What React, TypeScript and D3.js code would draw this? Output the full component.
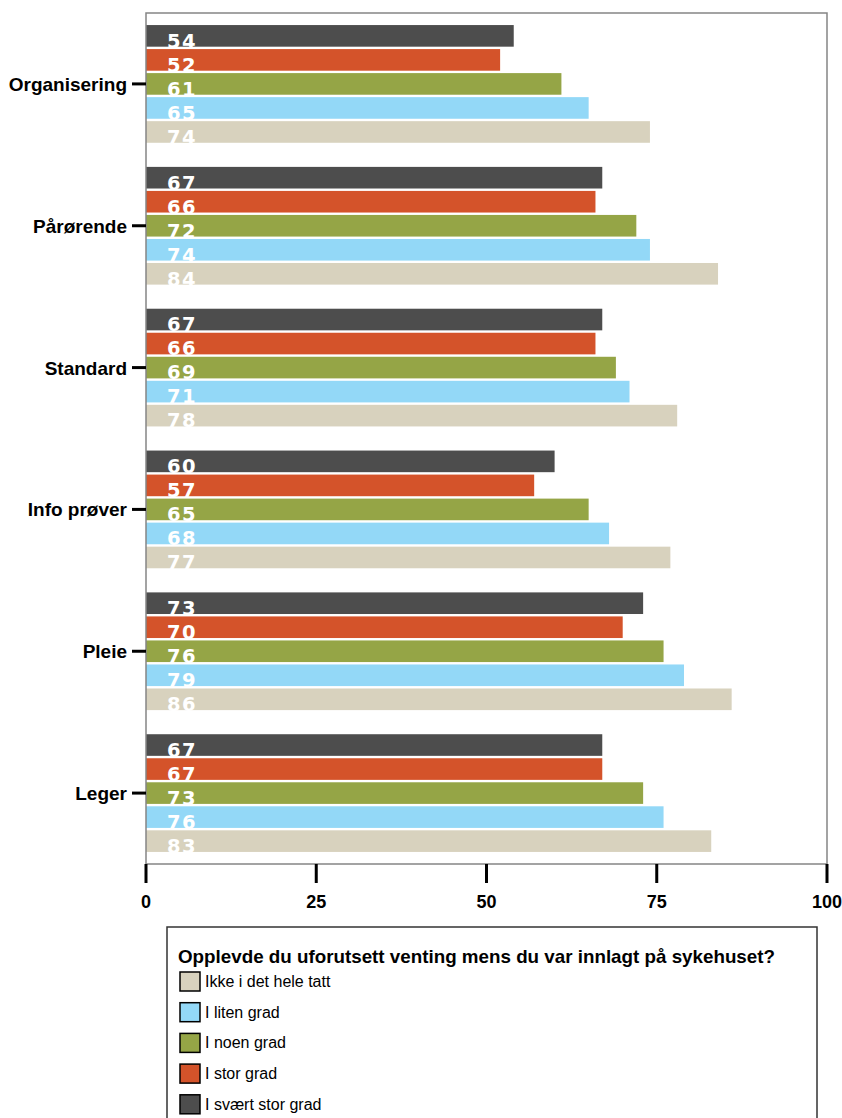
import React, { useEffect } from "react";
import * as d3 from "d3";

// Categories, top to bottom
const categories = ["Organisering", "Pårørende", "Standard", "Info prøver", "Pleie", "Leger"];

// Response series (legend order)
const seriesNames = [
  "Ikke i det hele tatt",
  "I liten grad",
  "I noen grad",
  "I stor grad",
  "I svært stor grad",
];
const seriesColors = ["#d8d2be", "#93d8f7", "#95a546", "#d4532a", "#4d4d4d"];

// Scores per category for each series
const ikkeValues = [74, 84, 78, 77, 86, 83];
const litenValues = [65, 74, 71, 68, 79, 76];
const noenValues = [61, 72, 69, 65, 76, 73];
const storValues = [52, 66, 66, 57, 70, 67];
const svaertStorValues = [54, 67, 67, 60, 73, 67];

const seriesValues = [ikkeValues, litenValues, noenValues, storValues, svaertStorValues];

const xTicks = [0, 25, 50, 75, 100];

const legendTitle = "Opplevde du uforutsett venting mens du var innlagt på sykehuset?";

const W = 842;
const H = 1118;
const plot = { left: 146, right: 827, top: 13, bottom: 864 };

export default function App() {
  useEffect(() => {
    document.body.style.margin = "0";
    document.body.style.overflow = "hidden";
  }, []);

  const x = d3.scaleLinear().domain([0, 100]).range([plot.left, plot.right]);
  const y0 = d3
    .scaleBand<string>()
    .domain(categories)
    .range([plot.top, plot.bottom])
    .paddingInner(0.17)
    .paddingOuter(0.085);
  // Bars inside a group run from "I svært stor grad" at the top to "Ikke i det hele tatt" at the bottom
  const barOrder = [...seriesNames].reverse();
  const y1 = d3
    .scaleBand<string>()
    .domain(barOrder)
    .range([0, y0.bandwidth()])
    .paddingInner(0.1);

  const labelFont = "'Liberation Sans', Arial, sans-serif";

  return (
    <svg width={W} height={H} style={{ display: "block", background: "#fff" }}>
      {categories.map((cat, ci) => {
        const gy = y0(cat)!;
        return (
          <g key={cat}>
            {barOrder.map((name) => {
              const si = seriesNames.indexOf(name);
              const v = seriesValues[si][ci];
              const by = gy + y1(name)!;
              const bh = y1.bandwidth();
              return (
                <g key={name}>
                  <rect
                    x={x(0)}
                    y={by}
                    width={x(v) - x(0)}
                    height={bh}
                    fill={seriesColors[si]}
                  />
                  <text
                    x={x(0) + 21}
                    y={by + bh + 1}
                    fill="#fff"
                    fontFamily="'DejaVu Sans', Verdana, sans-serif"
                    fontWeight="bold"
                    fontSize={19.5}
                    letterSpacing={1.5}
                  >
                    {v}
                  </text>
                </g>
              );
            })}
          </g>
        );
      })}

      {/* Plot frame */}
      <rect
        x={plot.left}
        y={plot.top}
        width={plot.right - plot.left}
        height={plot.bottom - plot.top}
        fill="none"
        stroke="#858585"
        strokeWidth={1.5}
      />

      {/* Category axis */}
      {categories.map((cat) => {
        const cy = y0(cat)! + y0.bandwidth() / 2;
        return (
          <g key={cat}>
            <line x1={plot.left - 14} x2={plot.left} y1={cy} y2={cy} stroke="#000" strokeWidth={3} />
            <text
              x={127}
              y={cy + 7}
              textAnchor="end"
              fontFamily={labelFont}
              fontWeight="bold"
              fontSize={19}
              fill="#000"
            >
              {cat}
            </text>
          </g>
        );
      })}

      {/* Value axis */}
      {xTicks.map((t) => (
        <g key={t}>
          <line x1={x(t)} x2={x(t)} y1={plot.bottom} y2={plot.bottom + 19} stroke="#000" strokeWidth={3} />
          <text
            x={x(t)}
            y={908}
            textAnchor="middle"
            fontFamily={labelFont}
            fontWeight="bold"
            fontSize={18}
            fill="#000"
          >
            {t}
          </text>
        </g>
      ))}

      {/* Legend */}
      <rect x={167} y={927} width={650} height={210} fill="#fff" stroke="#333" strokeWidth={1.5} />
      <text
        x={178}
        y={963}
        fontFamily={labelFont}
        fontWeight="bold"
        fontSize={19}
        textLength={597}
        lengthAdjust="spacingAndGlyphs"
        fill="#000"
      >
        {legendTitle}
      </text>
      {seriesNames.map((name, i) => {
        const ly = 972 + i * 30.7;
        return (
          <g key={name}>
            <rect x={180} y={ly} width={20} height={19} fill={seriesColors[i]} stroke="#000" strokeWidth={1.5} />
            <text x={205} y={ly + 15} fontFamily={labelFont} fontSize={16} fill="#000">
              {name}
            </text>
          </g>
        );
      })}
    </svg>
  );
}
